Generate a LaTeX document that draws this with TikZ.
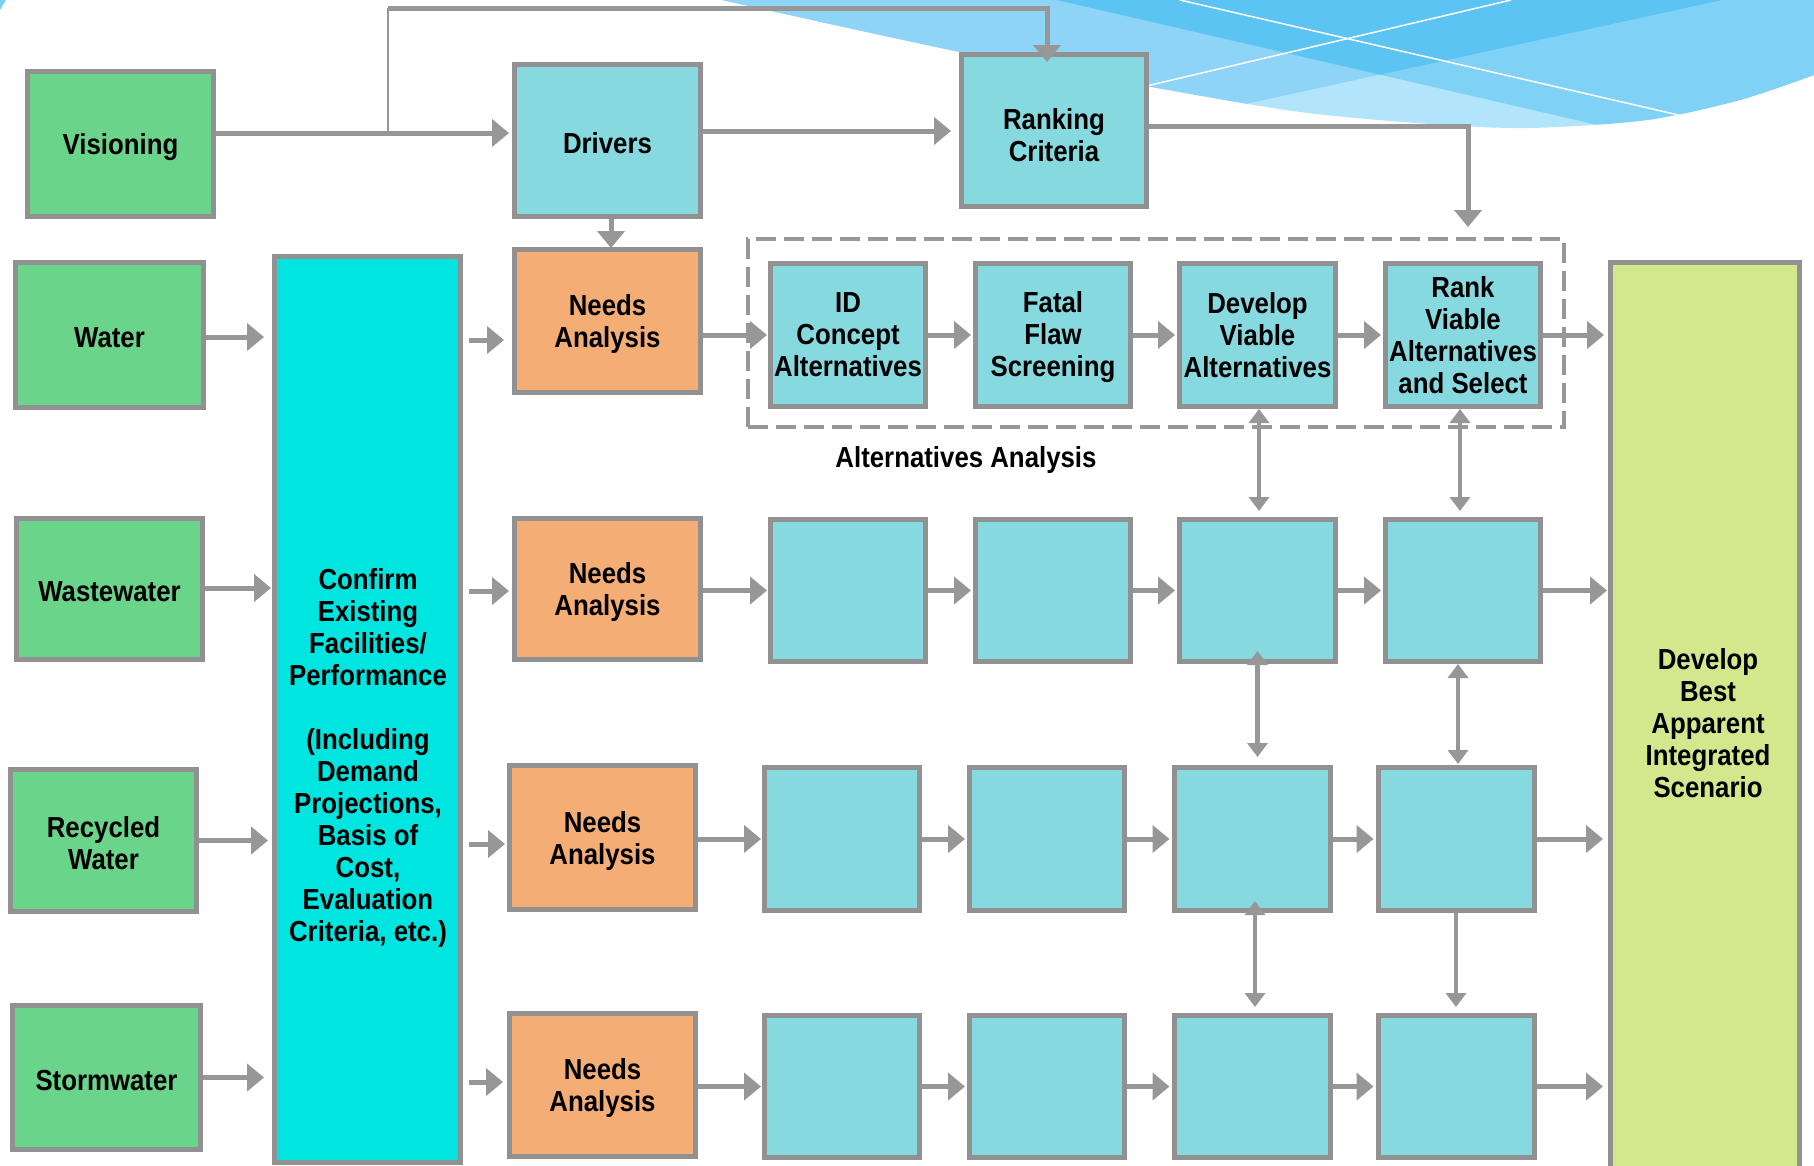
\documentclass[tikz,border=0pt]{standalone}
\usepackage{fontspec}
\setmainfont{Liberation Sans}[FakeStretch=0.89]
\usetikzlibrary{arrows.meta,calc}
\definecolor{bgreen}{HTML}{6AD48A}
\definecolor{bblue}{HTML}{86D9DF}
\definecolor{borange}{HTML}{F3AD75}
\definecolor{bcyan}{HTML}{00E5DF}
\definecolor{bolive}{HTML}{D3E78D}
\definecolor{bgray}{HTML}{919191}
\definecolor{agray}{HTML}{979797}
\definecolor{swlight}{HTML}{B2E4FB}
\definecolor{swmid}{HTML}{8ED4F7}
\definecolor{swright}{HTML}{80D1F6}
\definecolor{swdark}{HTML}{5BC4F2}
\begin{document}
\begin{tikzpicture}[x=1pt,y=-1pt,
  txt/.style={font=\bfseries\fontsize{29}{32}\selectfont, text=black, align=center, inner sep=0pt},
  box/.style={txt, draw=bgray, line width=5pt},
  tl/.style={label={[txt,yshift=-3pt]center:{#1}}},
  gbox/.style={box, fill=bgreen},
  bbox/.style={box, fill=bblue},
  obox/.style={box, fill=borange},
  arr/.style={draw=agray, line width=5pt, -{Triangle[length=17pt,width=27pt]}},
  varr/.style={draw=agray, line width=4.5pt, {Triangle[length=14pt,width=20pt]}-{Triangle[length=14pt,width=20pt]}},
  sarr/.style={draw=agray, line width=4.5pt, -{Triangle[length=14pt,width=20pt]}}
]
\useasboundingbox (0,0) rectangle (1814,1165);
\fill[white] (0,0) rectangle (1814,1165);

% background swoosh
\begin{scope}
\clip plot[smooth] coordinates {(722,0) (960,52) (1157,88) (1300,112) (1430,124) (1530,128) (1647,120) (1740,100) (1814,75)} -- (1814,0) -- cycle;
\fill[swlight] (700,0) rectangle (1814,140);
\fill[swmid] (700,0) -- (700,223) -- (1722,0) -- cycle;
\fill[swright] (1057,0) -- (1814,175) -- (1814,0) -- cycle;
\fill[swdark] (1057,0) -- (1380,74.6) -- (1722,0) -- cycle;
\draw[white, line width=1.5pt] (1180,0) -- (1700,120);
\draw[white, line width=1.5pt] (1100,97) -- (1511,0);
\end{scope}
\fill[swdark!80] (0,0) -- (6,0) -- (0,10) -- cycle;

% top row
\node[gbox, minimum width=186, minimum height=145, tl={Visioning}] (vis) at (120.5,144) {};
\node[bbox, minimum width=186, minimum height=152, tl={Drivers}] (drv) at (607.5,140.5) {};
\node[bbox, minimum width=185, minimum height=152, label={[txt,yshift=-4.5pt]center:{Ranking\\Criteria}}] (rnk) at (1054,130.5) {};

% left column
\node[gbox, minimum width=188, minimum height=145, tl={Water}] (water) at (109.5,335) {};
\node[gbox, minimum width=186, minimum height=141, tl={Wastewater}] (waste) at (109.5,589) {};
\node[gbox, minimum width=186, minimum height=142, tl={Recycled\\Water}] (recyc) at (103.5,840.5) {};
\node[gbox, minimum width=188, minimum height=144, tl={Stormwater}] (storm) at (106.5,1077.5) {};

% tall boxes
\node[box, fill=bcyan, minimum width=186, minimum height=906] (confirm) at (367.5,709.5) {};
\node[txt] (confirmtxt) at (368,757.5) {Confirm\\Existing\\Facilities/\\Performance\\[32pt](Including\\Demand\\Projections,\\Basis of\\Cost,\\Evaluation\\Criteria, etc.)};
\node[box, fill=bolive, minimum width=189, minimum height=912] (best) at (1705,718.5) {};
\node[txt] (besttxt) at (1708,723) {Develop\\Best\\Apparent\\Integrated\\Scenario};

% needs analysis
\node[obox, minimum width=186, minimum height=143, tl={Needs\\Analysis}] (needs1) at (607.5,321) {};
\node[obox, minimum width=186, minimum height=141, tl={Needs\\Analysis}] (needs2) at (607.5,589) {};
\node[obox, minimum width=186, minimum height=144, tl={Needs\\Analysis}] (needs3) at (602.5,837.5) {};
\node[obox, minimum width=186, minimum height=143, tl={Needs\\Analysis}] (needs4) at (602.5,1085) {};

% alternatives analysis frame
\node[draw=agray, line width=4pt, dash pattern=on 20pt off 8pt, minimum width=816, minimum height=188, inner sep=0pt] (alt) at (1156,333) {};
\node[txt] (altlbl) at (966,460) {Alternatives Analysis};

% row 1
\node[bbox, minimum width=155, minimum height=143] (id1) at (848,335) {ID\\Concept\\Alternatives};
\node[bbox, minimum width=155, minimum height=143, label={[txt,yshift=-2.5pt]center:{Fatal\\Flaw\\Screening}}] (fat1) at (1053,335) {};
\node[bbox, minimum width=156, minimum height=143] (dev1) at (1257.5,335) {Develop\\Viable\\Alternatives};
\node[bbox, minimum width=155, minimum height=143] (rnk1) at (1463,335) {Rank\\Viable\\Alternatives\\and Select};
% row 2
\node[bbox, minimum width=155, minimum height=142] (id2) at (848,590.5) {};
\node[bbox, minimum width=155, minimum height=142] (fat2) at (1053,590.5) {};
\node[bbox, minimum width=156, minimum height=142] (dev2) at (1257.5,590.5) {};
\node[bbox, minimum width=155, minimum height=142] (rnk2) at (1463,590.5) {};
% row 3
\node[bbox, minimum width=155, minimum height=143] (id3) at (842,839) {};
\node[bbox, minimum width=155, minimum height=143] (fat3) at (1047,839) {};
\node[bbox, minimum width=156, minimum height=143] (dev3) at (1252,839) {};
\node[bbox, minimum width=156, minimum height=143] (rnk3) at (1456,839) {};
% row 4
\node[bbox, minimum width=155, minimum height=142] (id4) at (842,1086.5) {};
\node[bbox, minimum width=155, minimum height=142] (fat4) at (1047,1086.5) {};
\node[bbox, minimum width=156, minimum height=142] (dev4) at (1252,1086.5) {};
\node[bbox, minimum width=156, minimum height=142] (rnk4) at (1456,1086.5) {};

% top connectors
\coordinate (brA) at (388,133);
\coordinate (brB) at (388,8.5);
\coordinate (brC) at (1047,8.5);
\draw[arr] ($(vis.east)+(0,-11)$) -- ($(vis.east -| drv.west)+(-3,-11)$);
\draw[draw=agray, line width=2.5pt] (brA) -- ($(brB)+(0,-1)$);
\draw[arr, line join=miter] (brB) -- (brC) -- ($(rnk.north)+(-7,10)$);
\draw[arr] ($(drv.east)+(0,-9.5)$) -- ($(drv.east -| rnk.west)+(-8,-9.5)$);
\draw[arr, line join=miter] ($(rnk.east)+(0,-4.5)$) -| ($(alt.north)+(312,-10)$);
\draw[arr] ($(drv.south)+(3.5,0)$) -- ($(needs1.north)+(3.5,1)$);

% row 1 connectors
\draw[arr] ($(water.east)+(0,2)$) -- ($(water.east -| confirm.west)+(-8,2)$);
\draw[arr] ($(confirm.east |- needs1.west)+(6,19)$) -- ($(needs1.west)+(-8,19)$);
\draw[arr] (needs1.east |- id1.west) -- ($(id1.west)+(-1,0)$);
\draw[arr] (id1.east) -- ($(fat1.west)+(-2,0)$);
\draw[arr] (fat1.east) -- ($(dev1.west)+(-2,0)$);
\draw[arr] (dev1.east) -- ($(rnk1.west)+(-2,0)$);
\draw[arr] (rnk1.east) -- ($(rnk1.east -| best.west)+(-4,0)$);

% row 2 connectors
\draw[arr] ($(waste.east)+(0,-1)$) -- ($(waste.east -| confirm.west)+(-1,-1)$);
\draw[arr] ($(confirm.east |- needs2.west)+(6,2)$) -- ($(needs2.west)+(-3,2)$);
\draw[arr] (needs2.east |- id2.west) -- ($(id2.west)+(-1,0)$);
\draw[arr] (id2.east) -- ($(fat2.west)+(-2,0)$);
\draw[arr] (fat2.east) -- ($(dev2.west)+(-2,0)$);
\draw[arr] (dev2.east) -- ($(rnk2.west)+(-2,0)$);
\draw[arr] (rnk2.east) -- ($(rnk2.east -| best.west)+(-1,0)$);

% row 3 connectors
\draw[arr] (recyc.east) -- ($(recyc.east -| confirm.west)+(-4,0)$);
\draw[arr] ($(confirm.east |- needs3.west)+(6,6.5)$) -- ($(needs3.west)+(-2,6.5)$);
\draw[arr] (needs3.east |- id3.west) -- ($(id3.west)+(-1,0)$);
\draw[arr] (id3.east) -- ($(fat3.west)+(-2,0)$);
\draw[arr] (fat3.east) -- ($(dev3.west)+(-2,0)$);
\draw[arr] (dev3.east) -- ($(rnk3.west)+(-2,0)$);
\draw[arr] (rnk3.east) -- ($(rnk3.east -| best.west)+(-5,0)$);

% row 4 connectors
\draw[arr] (storm.east) -- ($(storm.east -| confirm.west)+(-8,0)$);
\draw[arr] ($(confirm.east |- needs4.west)+(6,-3)$) -- ($(needs4.west)+(-4,-3)$);
\draw[arr] (needs4.east |- id4.west) -- ($(id4.west)+(-1,0)$);
\draw[arr] (id4.east) -- ($(fat4.west)+(-2,0)$);
\draw[arr] (fat4.east) -- ($(dev4.west)+(-2,0)$);
\draw[arr] (dev4.east) -- ($(rnk4.west)+(-2,0)$);
\draw[arr] (rnk4.east) -- ($(rnk4.east -| best.west)+(-5,0)$);

% vertical links
\draw[varr] ($(dev1.south)+(1.5,0)$) -- ($(dev1.south |- dev2.north)+(1.5,-6)$);
\draw[varr] ($(rnk1.south)+(-3,0)$) -- ($(rnk1.south |- rnk2.north)+(-3,-6)$);
\draw[varr] ($(dev2.south)+(0,-13)$) -- ($(dev2.south |- dev3.north)+(0,-8)$);
\draw[varr] ($(rnk2.south)+(-5,0)$) -- ($(rnk2.south |- rnk3.north)+(-5,-1)$);
\draw[varr] ($(dev3.south)+(3,-12)$) -- ($(dev3.south |- dev4.north)+(3,-6)$);
\draw[sarr] (rnk3.south) -- ($(rnk3.south |- rnk4.north)+(0,-6)$);
\end{tikzpicture}
\end{document}
